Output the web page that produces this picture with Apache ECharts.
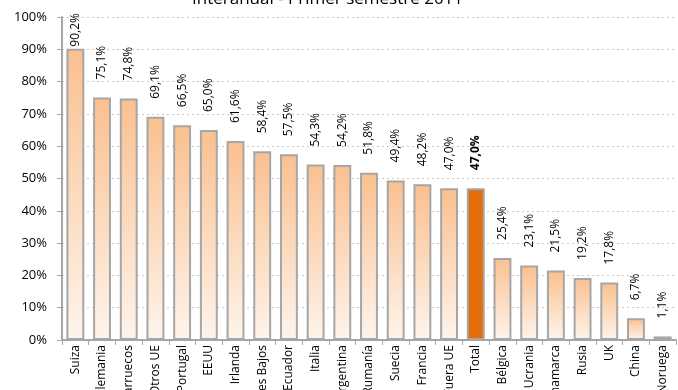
<!DOCTYPE html>
<html>
<head>
<meta charset="utf-8">
<script src="https://cdn.jsdelivr.net/npm/echarts@6/dist/echarts.min.js"></script>
<style>html,body{margin:0;padding:0;background:#fff}#c{width:678px;height:390px}</style>
</head>
<body>
<div id="c"></div>
<script>
const titleText = 'Interanual - Primer semestre 2011';
const categories = ['Suiza','Alemania','Marruecos','Otros UE','Portugal','EEUU','Irlanda','Países Bajos','Ecuador','Italia','Argentina','Rumanía','Suecia','Francia','Fuera UE','Total','Bélgica','Ucrania','Dinamarca','Rusia','UK','China','Noruega'];
const values = [90.2,75.1,74.8,69.1,66.5,65.0,61.6,58.4,57.5,54.3,54.2,51.8,49.4,48.2,47.0,47.0,25.4,23.1,21.5,19.2,17.8,6.7,1.1];
const highlightCategory = 'Total';
const yTicks = [0,10,20,30,40,50,60,70,80,90,100];

const fmt = v => v.toFixed(1).replace('.', ',') + '%';
const barGradient = new echarts.graphic.LinearGradient(0,0,0,1,[{offset:0,color:'#FAC08F'},{offset:1,color:'#FEF4EC'}]);
const data = values.map((v,i) => {
  const item = {value: v};
  if (categories[i] === highlightCategory) {
    item.itemStyle = {color:'#E46C0A'};
    item.label = {fontWeight:'bold'};
  }
  if (v > 85) item.label = Object.assign(item.label || {}, {offset:[0,0]});
  return item;
});

const chart = echarts.init(document.getElementById('c'), null, {renderer:'canvas'});
chart.setOption({
  animation:false,
  title:{text:titleText,left:187,top:-14,textStyle:{fontFamily:'Open Sans',fontSize:17,fontWeight:'normal',color:'#000'}},
  grid:{left:62,right:2,top:17,bottom:50,containLabel:false,outerBoundsMode:'none'},
  xAxis:{type:'category',data:categories,
    axisLine:{lineStyle:{color:'#A6A6A6',width:2}},
    axisTick:{show:true,alignWithLabel:false,length:5,lineStyle:{color:'#A6A6A6',width:1}},
    axisLabel:{rotate:90,interval:0,margin:5,fontFamily:'Open Sans',fontSize:12,color:'#000',hideOverlap:false}},
  yAxis:{type:'value',min:yTicks[0],max:yTicks[yTicks.length-1],interval:10,
    axisLine:{show:true,lineStyle:{color:'#A6A6A6',width:2}},
    axisTick:{show:true,length:5,lineStyle:{color:'#A6A6A6'}},
    axisLabel:{formatter:'{value}%',fontFamily:'Open Sans',fontSize:13,color:'#000',margin:15},
    splitLine:{lineStyle:{color:'#C8C8C8',type:[2,3],width:1}}},
  series:[{type:'bar',data:data,barWidth:'67%',
    itemStyle:{color:barGradient,borderColor:'#A6A6A6',borderWidth:2},
    label:{show:true,position:'top',rotate:90,align:'left',verticalAlign:'middle',distance:2,offset:[16,0],
      formatter:p=>fmt(p.value),fontFamily:'Open Sans',fontSize:12,color:'#000'}}]
});
</script>
</body>
</html>
